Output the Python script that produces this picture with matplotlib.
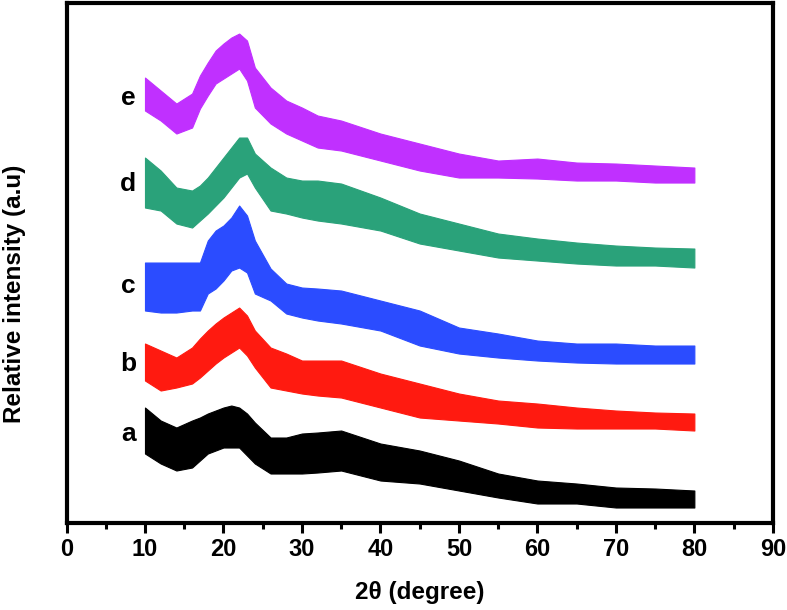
import matplotlib
matplotlib.use("Agg")
import matplotlib.pyplot as plt
from matplotlib.ticker import MultipleLocator

two_theta = [10, 12, 14, 16, 17, 18, 19, 20, 21, 22, 23, 24, 26, 28, 30,
             32, 35, 40, 45, 50, 55, 60, 65, 70, 75, 80]

# upper / lower edge of each noisy pattern (arbitrary units, offsets included)
e_hi = [91.6, 89.0, 86.4, 88.4, 92.0, 94.6, 97.0, 98.4, 99.6, 100.4, 99.0, 93.6, 89.6,
        87.0, 85.6, 84.0, 83.0, 80.4, 78.4, 76.4, 75.0, 75.4, 74.6, 74.4, 74.0, 73.6]
e_lo = [85.0, 83.0, 80.4, 81.6, 85.4, 88.0, 90.4, 91.4, 92.4, 93.4, 91.0, 85.6, 82.4,
        80.4, 79.0, 77.6, 77.0, 75.0, 73.0, 71.6, 71.6, 71.4, 71.0, 71.0, 70.6, 70.6]

d_hi = [75.6, 73.0, 69.6, 69.0, 70.0, 71.6, 73.6, 75.6, 77.6, 79.6, 79.6, 76.4, 73.6,
        71.6, 71.0, 71.0, 70.4, 67.6, 64.4, 62.4, 60.4, 59.4, 58.6, 58.0, 57.6, 57.4]
d_lo = [65.6, 65.0, 62.4, 61.6, 63.0, 64.4, 66.0, 67.6, 69.6, 71.6, 72.4, 69.6, 65.0,
        64.4, 63.6, 63.0, 62.4, 61.0, 58.4, 57.0, 55.6, 55.0, 54.4, 54.0, 54.0, 53.6]

c_hi = [54.6, 54.6, 54.6, 54.6, 54.6, 59.0, 61.0, 62.0, 63.6, 66.0, 64.0, 59.0, 53.4,
        50.4, 49.6, 49.4, 49.0, 47.0, 45.0, 41.6, 40.4, 39.0, 38.4, 38.4, 38.0, 38.0]
c_lo = [45.0, 44.6, 44.6, 45.0, 45.0, 48.4, 49.4, 51.0, 53.0, 53.6, 52.6, 48.4, 47.0,
        44.4, 43.6, 43.0, 42.4, 41.0, 38.0, 36.4, 35.6, 35.0, 34.6, 34.4, 34.4, 34.4]

b_hi = [38.4, 37.0, 35.6, 37.6, 39.4, 41.0, 42.4, 43.6, 44.6, 45.6, 44.0, 41.0, 37.6,
        36.4, 35.0, 35.0, 35.0, 32.4, 30.4, 28.4, 27.0, 26.4, 25.6, 25.0, 24.6, 24.4]
b_lo = [31.0, 29.0, 29.6, 30.4, 31.6, 33.0, 34.4, 35.6, 36.6, 37.6, 36.0, 33.6, 29.6,
        29.0, 28.4, 28.0, 27.6, 25.6, 23.6, 23.0, 22.4, 21.6, 21.4, 21.4, 21.4, 21.0]

a_hi = [25.6, 23.0, 21.6, 23.0, 23.6, 24.4, 25.0, 25.6, 26.0, 25.6, 24.4, 22.6, 19.6,
        19.6, 20.4, 20.6, 21.0, 18.4, 17.0, 15.0, 12.4, 11.0, 10.4, 9.6, 9.4, 9.0]
a_lo = [16.4, 14.4, 13.0, 13.6, 15.0, 16.4, 17.0, 17.6, 17.6, 17.6, 16.0, 14.4, 12.4,
        12.4, 12.4, 12.6, 13.0, 11.0, 10.4, 9.0, 7.6, 6.4, 6.4, 5.6, 5.6, 5.6]

sample_names = ["a", "b", "c", "d", "e"]
label_y = [20.4, 34.4, 50.0, 70.4, 87.6]

bands = [(a_hi, a_lo), (b_hi, b_lo), (c_hi, c_lo), (d_hi, d_lo), (e_hi, e_lo)]
colors = ["#000000", "#ff1a10", "#2b4cff", "#2aa27a", "#c030ff"]

font = ["Liberation Sans", "DejaVu Sans"]

fig = plt.figure(figsize=(7.87, 6.10), dpi=100)
ax = fig.add_axes([0.0845, 0.1426, 0.8975, 0.8524])

for (hi, lo), col in zip(bands, colors):
    ax.fill_between(two_theta, lo, hi, color=col, linewidth=0.8, edgecolor=col)

for name, yy in zip(sample_names, label_y):
    ax.text(7.85, yy, name, ha="center", va="center", fontsize=19,
            fontweight="bold", family=font)

ax.set_xlim(0, 90)
ax.set_ylim(2.5, 106.5)
ax.xaxis.set_major_locator(MultipleLocator(10))
ax.xaxis.set_minor_locator(MultipleLocator(5))
ax.set_yticks([])
ax.tick_params(axis="x", which="major", direction="out", length=7, width=2.2,
               pad=4, labelsize=17)
ax.tick_params(axis="x", which="minor", direction="out", length=4, width=2.2)
for lab in ax.get_xticklabels():
    lab.set_fontweight("bold")
    lab.set_family(font)
for sp in ax.spines.values():
    sp.set_linewidth(3)

ax.set_xlabel("2θ (degree)", fontsize=17.5, fontweight="bold", family=font, labelpad=14)
ax.set_ylabel("Relative intensity (a.u)", fontsize=17.5, fontweight="bold", family=font)
ax.yaxis.set_label_coords(-0.057, 0.44)

fig.savefig("out.png", dpi=100)
